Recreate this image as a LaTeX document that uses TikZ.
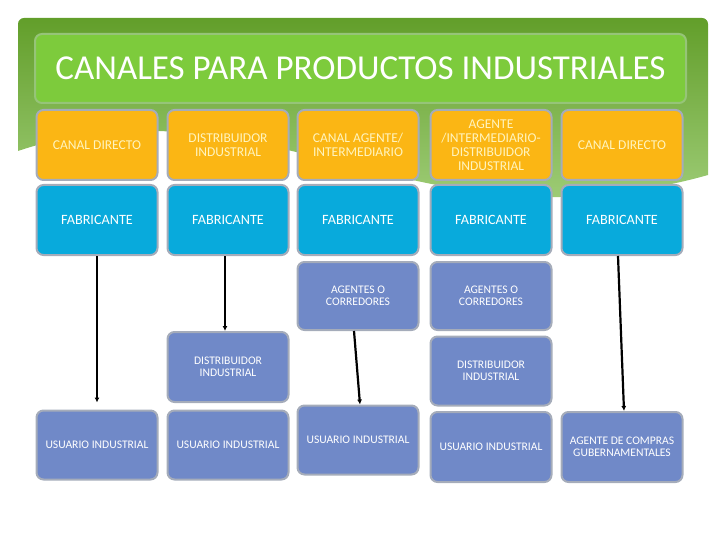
\documentclass[tikz,border=0pt]{standalone}
\usepackage{fontspec}
\setmainfont{Carlito}
\usepackage{tikz}
\usetikzlibrary{shapes, arrows.meta, calc, positioning}
\definecolor{naranja}{RGB}{251,182,20}
\definecolor{azul}{RGB}{8,170,220}
\definecolor{lila}{RGB}{112,137,200}
\definecolor{verde}{RGB}{125,203,60}
\definecolor{verdeosc}{RGB}{98,158,42}
\definecolor{verdecla}{RGB}{158,204,118}
\definecolor{verdeborde}{RGB}{150,196,120}
\definecolor{borde}{RGB}{165,172,186}
\definecolor{crema}{RGB}{255,244,190}
\newcommand{\boxwidth}{121pt}
\newcommand{\boxheight}{70pt}

\begin{document}
\begin{tikzpicture}[x=1pt,y=-1pt,
    caja/.style={draw=borde,line width=2pt,rounded corners=7pt,minimum width=\boxwidth,minimum height=\boxheight,align=center,inner sep=2pt,text=white},
    canal/.style={caja,fill=naranja,text=crema,font=\fontsize{13.5}{14}\selectfont},
    fabrica/.style={caja,fill=azul,font=\fontsize{14.2}{15}\selectfont},
    paso/.style={caja,fill=lila,minimum height=68pt,font=\fontsize{11.6}{12.5}\selectfont},
    flecha/.style={line width=2.2pt,-{Latex[length=5pt,width=5pt]}}]
\useasboundingbox (0,0) rectangle (720,540);

\shade[top color=verdeosc,bottom color=verdecla] (18,151) [rounded corners=6pt] -- (18,18) -- (708,18) [sharp corners] -- (708,175)
    .. controls (690,180) and (640,194) .. (560,197)
    .. controls (450,200) and (350,160) .. (230,138)
    .. controls (150,125) and (80,130) .. (18,151) -- cycle;

\node[draw=verdeborde,line width=2pt,rounded corners=7pt,fill=verde,minimum width=651pt,minimum height=69pt,text=white,font=\fontsize{35}{40}\selectfont] (titulo) at (360.5,68.5) {CANALES PARA PRODUCTOS INDUSTRIALES};

\node[canal] (can_1) at (97,145) {CANAL DIRECTO};
\node[canal] (can_2) at (228,145) {DISTRIBUIDOR\\INDUSTRIAL};
\node[canal] (can_3) at (358,145) {CANAL AGENTE/\\INTERMEDIARIO};
\node[canal] (can_4) at (491,145) {AGENTE\\/INTERMEDIARIO-\\DISTRIBUIDOR\\INDUSTRIAL};
\node[canal] (can_5) at (622,145) {CANAL DIRECTO};

\node[fabrica] (fab_1) at (97,220) {FABRICANTE};
\node[fabrica] (fab_2) at (228,220) {FABRICANTE};
\node[fabrica] (fab_3) at (358,220) {FABRICANTE};
\node[fabrica] (fab_4) at (491,220) {FABRICANTE};
\node[fabrica] (fab_5) at (622,220) {FABRICANTE};

\node[paso] (agt_3) at (358,296) {AGENTES O\\CORREDORES};
\node[paso] (agt_4) at (491,296) {AGENTES O\\CORREDORES};

\node[paso,minimum height=70pt] (dis_2) at (228,367) {DISTRIBUIDOR\\INDUSTRIAL};
\node[paso,minimum height=69pt] (dis_4) at (491,371) {DISTRIBUIDOR\\INDUSTRIAL};

\node[paso,minimum height=69pt] (usr_1) at (97,445) {USUARIO INDUSTRIAL};
\node[paso,minimum height=69pt] (usr_2) at (228,445) {USUARIO INDUSTRIAL};
\node[paso,minimum height=69pt] (usr_3) at (358,440) {USUARIO INDUSTRIAL};
\node[paso,minimum height=70pt] (usr_4) at (491,447) {USUARIO INDUSTRIAL};
\node[paso,minimum height=70pt] (usr_5) at (622,447) {AGENTE DE COMPRAS\\GUBERNAMENTALES};

\draw[flecha,shorten >=7pt] (fab_1) -- (usr_1);
\draw[flecha] ([xshift=-3pt]fab_2.south) -- ([xshift=-3pt]dis_2.north);
\draw[flecha] ([xshift=-4pt]agt_3.south) -- ([xshift=2pt]usr_3.north);
\draw[flecha] ([xshift=-4pt]fab_5.south) -- ([xshift=2pt]usr_5.north);
\end{tikzpicture}
\end{document}
